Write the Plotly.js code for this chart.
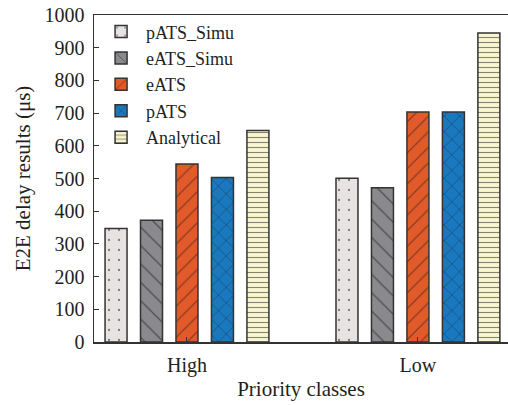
<!DOCTYPE html>
<html><head><meta charset="utf-8">
<script src="https://cdn.plot.ly/plotly-3.0.1.min.js"></script>
<style>html,body{margin:0;padding:0;background:#fff}</style>
</head><body>
<div id="chart" style="width:508px;height:405px"></div>
<script>
const categories = ["High", "Low"];
const seriesNames = ["pATS_Simu", "eATS_Simu", "eATS", "pATS", "Analytical"];
const pATS_Simu = [347, 501];
const eATS_Simu = [372, 472];
const eATS = [544, 703];
const pATS = [503, 703];
const Analytical = [647, 945];
const yTicks = [0,100,200,300,400,500,600,700,800,900,1000];

const values = [pATS_Simu, eATS_Simu, eATS, pATS, Analytical];
const fills = ["#e8e3e3", "#8a898d", "#e05a2a", "#1a78be", "#f8f5d0"];
const shapes = [".", "\\", "/", "x", "-"];
const sizes = [10, 13, 11, 11, 5];
const solid = [0.04, 0.1, 0.1, 0.1, 0.22];

const traces = seriesNames.map((n, i) => ({
  type: "bar", name: n, x: categories, y: values[i],
  marker: {
    color: fills[i],
    line: {color: "#333333", width: 1.5},
    pattern: {shape: shapes[i], fgcolor: "#111111", bgcolor: fills[i], size: sizes[i], solidity: solid[i], fillmode: "overlay"}
  }
}));

const font = {family: "Liberation Serif, Times New Roman, serif", color: "#231f20"};
const layout = {
  width: 508, height: 405,
  margin: {l: 94, r: 0, t: 15, b: 63},
  paper_bgcolor: "#fff", plot_bgcolor: "#fff",
  font: Object.assign({size: 20}, font),
  barmode: "group", bargap: 0.232, bargroupgap: 0.38,
  showlegend: true,
  legend: {x: 0.005, y: 1.005, xanchor: "left", yanchor: "top", bgcolor: "rgba(0,0,0,0)",
    font: Object.assign({size: 18}, font), itemwidth: 40, tracegroupgap: 0},
  xaxis: {
    type: "category", range: [-0.4026, 1.39],
    showline: true, linecolor: "#333", linewidth: 1.5, mirror: true,
    ticks: "inside", ticklen: 5, tickcolor: "#333",
    tickfont: Object.assign({size: 20}, font), ticklabelstandoff: 4,
    title: {text: "Priority classes", font: Object.assign({size: 21}, font), standoff: 6},
    showgrid: false, zeroline: false
  },
  yaxis: {
    range: [0, 1000], tickvals: yTicks, ticktext: yTicks.map(String),
    showline: true, linecolor: "#333", linewidth: 1.5, mirror: true,
    ticks: "inside", ticklen: 5, tickcolor: "#333",
    tickfont: Object.assign({size: 20}, font), ticklabelstandoff: 4,
    title: {text: "E2E delay results (μs)", font: Object.assign({size: 21}, font), standoff: 8},
    showgrid: false, zeroline: false
  }
};
Plotly.newPlot("chart", traces, layout, {displayModeBar: false, staticPlot: true});
</script>
</body></html>
